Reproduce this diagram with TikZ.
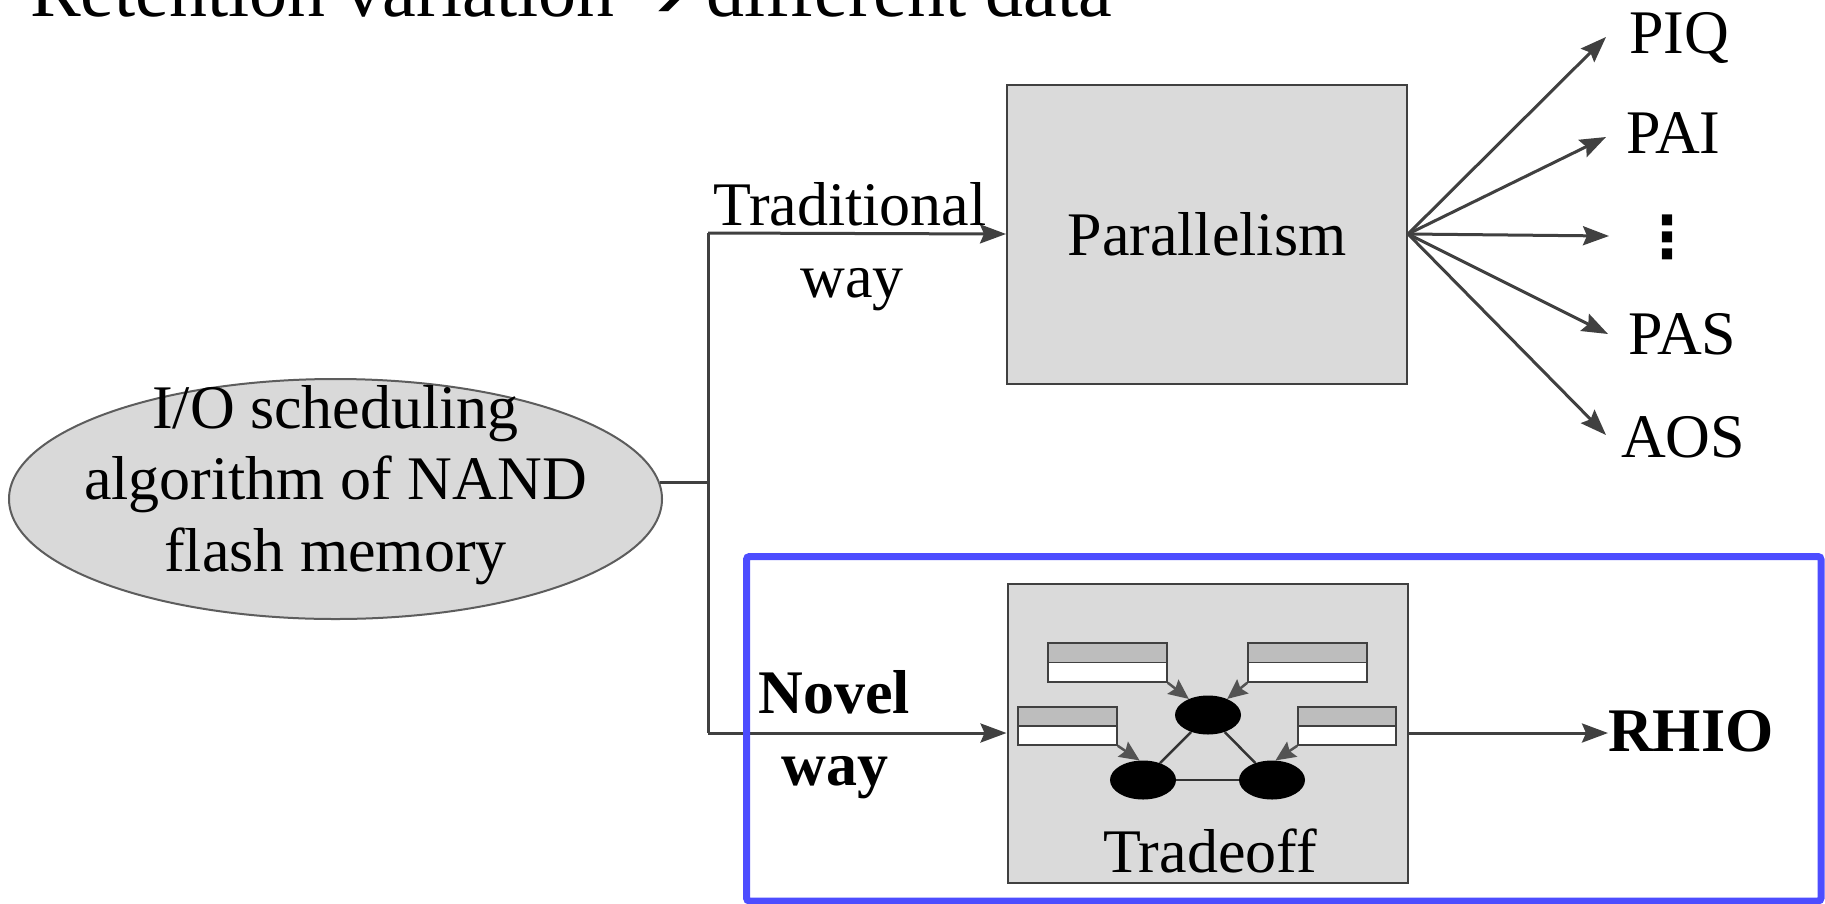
\documentclass[tikz,border=0pt]{standalone}
\usepackage{fontspec}
\setmainfont{Liberation Serif}
\newfontfamily\djv{DejaVu Sans}
\usetikzlibrary{shapes.geometric,arrows.meta}
\definecolor{ln}{HTML}{404040}
\definecolor{boxfill}{HTML}{DADADA}
\definecolor{ellfill}{HTML}{D9D9D9}
\definecolor{barg}{HTML}{BDBDBD}
\definecolor{hlblue}{HTML}{4D4DFF}
\begin{document}
\begin{tikzpicture}[x=1pt,y=-1pt,
  txt/.style={inner sep=0pt, font=\fontsize{62}{71.5}\selectfont},
  btxt/.style={inner sep=0pt, font=\fontsize{62}{71.5}\selectfont\bfseries},
  conn/.style={draw=ln, line width=3pt},
  arr/.style={conn, -{Stealth[length=26pt,width=19pt,inset=4pt]}},
  sarr/.style={draw=ln!90!white, line width=2.5pt, -{Stealth[length=20pt,width=18pt,inset=3pt]}},
  bigbox/.style={draw=ln, line width=2pt, fill=boxfill, minimum width=400pt, minimum height=299pt, inner sep=0pt},
  bar/.style={draw=ln, line width=1.5pt, fill=white, inner sep=0pt, minimum height=39pt,
    path picture={\fill[barg] (path picture bounding box.north west) rectangle (path picture bounding box.east);
      \draw[ln, line width=1.5pt] (path picture bounding box.west) -- (path picture bounding box.east);}},
  blob/.style={ellipse, fill=black, minimum width=66pt, minimum height=39pt, inner sep=0pt},
  tri/.style={draw=ln!80!black, line width=2.5pt},
]
\useasboundingbox[fill=white] (0,0) rectangle (1825,903);

% title (cut at the top)
\node[anchor=base west, inner sep=0pt, font=\fontsize{76}{80}\selectfont] (title) at (30,16)
  {Retention variation {\djv\fontsize{64}{64}\selectfont ➔} different data};

% ellipse
\node[ellipse, draw=ln!85!white, line width=2pt, fill=ellfill, minimum width=653pt, minimum height=240pt, inner sep=0pt] (ell) at (335.5,499) {};
\node[txt, align=center] (elltext) at (335.5,485) {I/O scheduling\\algorithm of NAND\\flash memory};

% junctions
\coordinate (jt) at (708,233);
\coordinate (jb) at (708,733);

% boxes
\node[bigbox] (par) at (1207,234) {};
\node[txt] (partext) at (par.center) {Parallelism};
\node[bigbox] (trade) at (1207.5,733) {};

% connectors from ellipse
\draw[conn] (ell.3) -- (ell.3 -| jt);
\draw[conn] (jt) -- (jb);
\draw[arr] (jt) -- (par.west);
\draw[arr] (jb) -- (trade.west);

% labels
\node[txt, anchor=base] (trad1) at (850,225) {Traditional};
\node[txt, anchor=base] (trad2) at (852,297) {way};
\node[btxt, anchor=base] (nov1) at (834,713) {Novel};
\node[btxt, anchor=base] (nov2) at (835,785) {way};

% fan outputs
\coordinate (t1) at (1606,37);
\coordinate (t2) at (1606,137);
\coordinate (t3) at (1609,236);
\coordinate (t4) at (1608,334);
\coordinate (t5) at (1606,435);
\foreach \t in {t1,t2,t3,t4,t5} \draw[arr] (par.east) -- (\t);
\node[txt, anchor=base west] (piq) at (1629,53) {PIQ};
\node[txt, anchor=base west] (pai) at (1626,153) {PAI};
\node[inner sep=0pt, font=\djv\bfseries\fontsize{58}{58}\selectfont] (dots) at (1667,237) {⋮};
\node[txt, anchor=base west] (pas) at (1628,354) {PAS};
\node[txt, anchor=base west] (aos) at (1621,457) {AOS};

% tradeoff inner
\node[bar, minimum width=119pt] (tl) at (1107.5,662.5) {};
\node[bar, minimum width=119pt] (tr) at (1307.5,662.5) {};
\node[bar, minimum width=99pt, minimum height=38pt] (lm) at (1067.5,726) {};
\node[bar, minimum width=98pt, minimum height=38pt] (rm) at (1347,726) {};
\node[blob] (e1) at (1208,715) {};
\node[blob] (e2) at (1143,780) {};
\node[blob] (e3) at (1272,780) {};
\draw[tri] (e1) -- (e2);
\draw[tri] (e1) -- (e3);
\draw[tri] (e2) -- (e3);
\draw[sarr] (tl.south east) -- (e1.140);
\draw[sarr] (tr.south west) -- (e1.40);
\draw[sarr] (lm.south east) -- (e2.100);
\draw[sarr] (rm.south west) -- (e3.80);
\node[txt, anchor=base] (tradetext) at (1210,872) {Tradeoff};

% result
\node[btxt, anchor=base west] (rhio) at (1608,751) {RHIO};
\draw[arr] (trade.east) -- (trade.east -| rhio.west);

% highlight
\draw[hlblue, line width=7pt, rounded corners=3pt] (746.5,556.5) rectangle (1821,901);
\end{tikzpicture}
\end{document}
